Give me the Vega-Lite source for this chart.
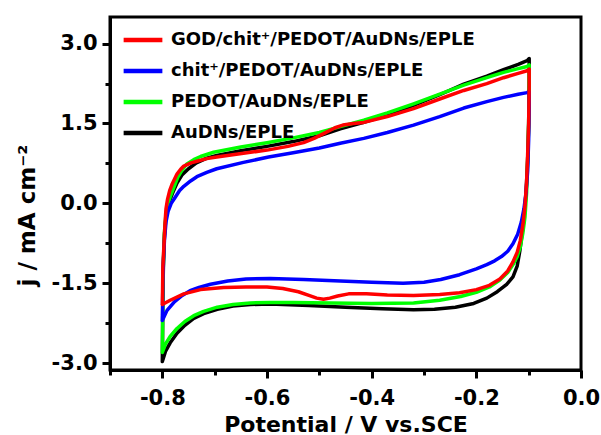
{
  "$schema": "https://vega.github.io/schema/vega-lite/v6.json",
  "width": 471,
  "height": 353,
  "autosize": {"type": "none"},
  "padding": {"left": 110, "top": 17, "right": 20, "bottom": 65},
  "background": "white",
  "config": {
    "view": {"stroke": "black", "strokeWidth": 3},
    "font": "DejaVu Sans"
  },
  "datasets": {
    "cv": [
      {"s":"AuDNs/EPLE","i":1,"x":-0.8,"y":-2.96},{"s":"AuDNs/EPLE","i":2,"x":-0.7995,"y":-2.4},{"s":"AuDNs/EPLE","i":3,"x":-0.799,"y":-1.8},{"s":"AuDNs/EPLE","i":4,"x":-0.798,"y":-1.2},{"s":"AuDNs/EPLE","i":5,"x":-0.796,"y":-0.6},{"s":"AuDNs/EPLE","i":6,"x":-0.793,"y":-0.25},{"s":"AuDNs/EPLE","i":7,"x":-0.788,"y":0.0},{"s":"AuDNs/EPLE","i":8,"x":-0.781,"y":0.18},{"s":"AuDNs/EPLE","i":9,"x":-0.772,"y":0.38},{"s":"AuDNs/EPLE","i":10,"x":-0.762,"y":0.54},{"s":"AuDNs/EPLE","i":11,"x":-0.75,"y":0.65},{"s":"AuDNs/EPLE","i":12,"x":-0.735,"y":0.76},{"s":"AuDNs/EPLE","i":13,"x":-0.715,"y":0.85},{"s":"AuDNs/EPLE","i":14,"x":-0.696,"y":0.9},{"s":"AuDNs/EPLE","i":15,"x":-0.65,"y":0.99},{"s":"AuDNs/EPLE","i":16,"x":-0.6,"y":1.07},{"s":"AuDNs/EPLE","i":17,"x":-0.55,"y":1.16},{"s":"AuDNs/EPLE","i":18,"x":-0.5,"y":1.27},{"s":"AuDNs/EPLE","i":19,"x":-0.46,"y":1.4},{"s":"AuDNs/EPLE","i":20,"x":-0.415,"y":1.52},{"s":"AuDNs/EPLE","i":21,"x":-0.37,"y":1.66},{"s":"AuDNs/EPLE","i":22,"x":-0.32,"y":1.84},{"s":"AuDNs/EPLE","i":23,"x":-0.27,"y":2.04},{"s":"AuDNs/EPLE","i":24,"x":-0.224,"y":2.24},{"s":"AuDNs/EPLE","i":25,"x":-0.18,"y":2.39},{"s":"AuDNs/EPLE","i":26,"x":-0.148,"y":2.51},{"s":"AuDNs/EPLE","i":27,"x":-0.12,"y":2.61},{"s":"AuDNs/EPLE","i":28,"x":-0.103,"y":2.68},{"s":"AuDNs/EPLE","i":29,"x":-0.099,"y":2.72},
      {"s":"AuDNs/EPLE","i":30,"x":-0.099,"y":2.3},{"s":"AuDNs/EPLE","i":31,"x":-0.1,"y":1.5},{"s":"AuDNs/EPLE","i":32,"x":-0.102,"y":0.8},{"s":"AuDNs/EPLE","i":33,"x":-0.105,"y":0.2},{"s":"AuDNs/EPLE","i":34,"x":-0.109,"y":-0.3},{"s":"AuDNs/EPLE","i":35,"x":-0.113,"y":-0.6},{"s":"AuDNs/EPLE","i":36,"x":-0.117,"y":-0.9},{"s":"AuDNs/EPLE","i":37,"x":-0.122,"y":-1.18},{"s":"AuDNs/EPLE","i":38,"x":-0.13,"y":-1.38},{"s":"AuDNs/EPLE","i":39,"x":-0.142,"y":-1.52},{"s":"AuDNs/EPLE","i":40,"x":-0.16,"y":-1.66},{"s":"AuDNs/EPLE","i":41,"x":-0.18,"y":-1.78},{"s":"AuDNs/EPLE","i":42,"x":-0.205,"y":-1.88},{"s":"AuDNs/EPLE","i":43,"x":-0.24,"y":-1.95},{"s":"AuDNs/EPLE","i":44,"x":-0.28,"y":-1.99},{"s":"AuDNs/EPLE","i":45,"x":-0.32,"y":-2.0},{"s":"AuDNs/EPLE","i":46,"x":-0.38,"y":-1.98},{"s":"AuDNs/EPLE","i":47,"x":-0.45,"y":-1.95},{"s":"AuDNs/EPLE","i":48,"x":-0.52,"y":-1.92},{"s":"AuDNs/EPLE","i":49,"x":-0.594,"y":-1.89},{"s":"AuDNs/EPLE","i":50,"x":-0.632,"y":-1.9},{"s":"AuDNs/EPLE","i":51,"x":-0.665,"y":-1.93},{"s":"AuDNs/EPLE","i":52,"x":-0.695,"y":-1.99},{"s":"AuDNs/EPLE","i":53,"x":-0.721,"y":-2.07},{"s":"AuDNs/EPLE","i":54,"x":-0.74,"y":-2.16},{"s":"AuDNs/EPLE","i":55,"x":-0.757,"y":-2.29},{"s":"AuDNs/EPLE","i":56,"x":-0.772,"y":-2.44},{"s":"AuDNs/EPLE","i":57,"x":-0.785,"y":-2.62},{"s":"AuDNs/EPLE","i":58,"x":-0.794,"y":-2.78},{"s":"AuDNs/EPLE","i":59,"x":-0.8,"y":-2.97},

      {"s":"PEDOT/AuDNs/EPLE","i":1,"x":-0.8,"y":-2.79},{"s":"PEDOT/AuDNs/EPLE","i":2,"x":-0.7995,"y":-2.3},{"s":"PEDOT/AuDNs/EPLE","i":3,"x":-0.799,"y":-1.7},{"s":"PEDOT/AuDNs/EPLE","i":4,"x":-0.798,"y":-1.1},{"s":"PEDOT/AuDNs/EPLE","i":5,"x":-0.796,"y":-0.55},{"s":"PEDOT/AuDNs/EPLE","i":6,"x":-0.793,"y":-0.2},{"s":"PEDOT/AuDNs/EPLE","i":7,"x":-0.789,"y":0.0},{"s":"PEDOT/AuDNs/EPLE","i":8,"x":-0.785,"y":0.12},{"s":"PEDOT/AuDNs/EPLE","i":9,"x":-0.778,"y":0.3},{"s":"PEDOT/AuDNs/EPLE","i":10,"x":-0.77,"y":0.5},{"s":"PEDOT/AuDNs/EPLE","i":11,"x":-0.762,"y":0.63},{"s":"PEDOT/AuDNs/EPLE","i":12,"x":-0.753,"y":0.74},{"s":"PEDOT/AuDNs/EPLE","i":13,"x":-0.74,"y":0.82},{"s":"PEDOT/AuDNs/EPLE","i":14,"x":-0.727,"y":0.88},{"s":"PEDOT/AuDNs/EPLE","i":15,"x":-0.702,"y":0.96},{"s":"PEDOT/AuDNs/EPLE","i":16,"x":-0.65,"y":1.06},{"s":"PEDOT/AuDNs/EPLE","i":17,"x":-0.6,"y":1.14},{"s":"PEDOT/AuDNs/EPLE","i":18,"x":-0.55,"y":1.23},{"s":"PEDOT/AuDNs/EPLE","i":19,"x":-0.5,"y":1.33},{"s":"PEDOT/AuDNs/EPLE","i":20,"x":-0.46,"y":1.44},{"s":"PEDOT/AuDNs/EPLE","i":21,"x":-0.415,"y":1.56},{"s":"PEDOT/AuDNs/EPLE","i":22,"x":-0.37,"y":1.7},{"s":"PEDOT/AuDNs/EPLE","i":23,"x":-0.32,"y":1.87},{"s":"PEDOT/AuDNs/EPLE","i":24,"x":-0.27,"y":2.05},{"s":"PEDOT/AuDNs/EPLE","i":25,"x":-0.224,"y":2.22},{"s":"PEDOT/AuDNs/EPLE","i":26,"x":-0.18,"y":2.36},{"s":"PEDOT/AuDNs/EPLE","i":27,"x":-0.148,"y":2.46},{"s":"PEDOT/AuDNs/EPLE","i":28,"x":-0.12,"y":2.53},{"s":"PEDOT/AuDNs/EPLE","i":29,"x":-0.103,"y":2.57},{"s":"PEDOT/AuDNs/EPLE","i":30,"x":-0.099,"y":2.6},
      {"s":"PEDOT/AuDNs/EPLE","i":31,"x":-0.099,"y":2.3},{"s":"PEDOT/AuDNs/EPLE","i":32,"x":-0.1,"y":1.5},{"s":"PEDOT/AuDNs/EPLE","i":33,"x":-0.102,"y":0.8},{"s":"PEDOT/AuDNs/EPLE","i":34,"x":-0.104,"y":0.2},{"s":"PEDOT/AuDNs/EPLE","i":35,"x":-0.107,"y":-0.25},{"s":"PEDOT/AuDNs/EPLE","i":36,"x":-0.111,"y":-0.55},{"s":"PEDOT/AuDNs/EPLE","i":37,"x":-0.116,"y":-0.82},{"s":"PEDOT/AuDNs/EPLE","i":38,"x":-0.122,"y":-1.0},{"s":"PEDOT/AuDNs/EPLE","i":39,"x":-0.13,"y":-1.15},{"s":"PEDOT/AuDNs/EPLE","i":40,"x":-0.14,"y":-1.3},{"s":"PEDOT/AuDNs/EPLE","i":41,"x":-0.155,"y":-1.44},{"s":"PEDOT/AuDNs/EPLE","i":42,"x":-0.175,"y":-1.57},{"s":"PEDOT/AuDNs/EPLE","i":43,"x":-0.2,"y":-1.67},{"s":"PEDOT/AuDNs/EPLE","i":44,"x":-0.23,"y":-1.75},{"s":"PEDOT/AuDNs/EPLE","i":45,"x":-0.27,"y":-1.82},{"s":"PEDOT/AuDNs/EPLE","i":46,"x":-0.32,"y":-1.87},{"s":"PEDOT/AuDNs/EPLE","i":47,"x":-0.4,"y":-1.88},{"s":"PEDOT/AuDNs/EPLE","i":48,"x":-0.479,"y":-1.87},{"s":"PEDOT/AuDNs/EPLE","i":49,"x":-0.55,"y":-1.86},{"s":"PEDOT/AuDNs/EPLE","i":50,"x":-0.594,"y":-1.86},{"s":"PEDOT/AuDNs/EPLE","i":51,"x":-0.632,"y":-1.87},{"s":"PEDOT/AuDNs/EPLE","i":52,"x":-0.665,"y":-1.9},{"s":"PEDOT/AuDNs/EPLE","i":53,"x":-0.695,"y":-1.95},{"s":"PEDOT/AuDNs/EPLE","i":54,"x":-0.721,"y":-2.03},{"s":"PEDOT/AuDNs/EPLE","i":55,"x":-0.74,"y":-2.11},{"s":"PEDOT/AuDNs/EPLE","i":56,"x":-0.757,"y":-2.22},{"s":"PEDOT/AuDNs/EPLE","i":57,"x":-0.772,"y":-2.35},{"s":"PEDOT/AuDNs/EPLE","i":58,"x":-0.785,"y":-2.5},{"s":"PEDOT/AuDNs/EPLE","i":59,"x":-0.794,"y":-2.64},{"s":"PEDOT/AuDNs/EPLE","i":60,"x":-0.8,"y":-2.8},

      {"s":"chit⁺/PEDOT/AuDNs/EPLE","i":1,"x":-0.8,"y":-2.2},{"s":"chit⁺/PEDOT/AuDNs/EPLE","i":2,"x":-0.7995,"y":-1.9},{"s":"chit⁺/PEDOT/AuDNs/EPLE","i":3,"x":-0.799,"y":-1.5},{"s":"chit⁺/PEDOT/AuDNs/EPLE","i":4,"x":-0.798,"y":-1.1},{"s":"chit⁺/PEDOT/AuDNs/EPLE","i":5,"x":-0.796,"y":-0.7},{"s":"chit⁺/PEDOT/AuDNs/EPLE","i":6,"x":-0.793,"y":-0.35},{"s":"chit⁺/PEDOT/AuDNs/EPLE","i":7,"x":-0.789,"y":-0.15},{"s":"chit⁺/PEDOT/AuDNs/EPLE","i":8,"x":-0.783,"y":0.0},{"s":"chit⁺/PEDOT/AuDNs/EPLE","i":9,"x":-0.775,"y":0.12},{"s":"chit⁺/PEDOT/AuDNs/EPLE","i":10,"x":-0.767,"y":0.24},{"s":"chit⁺/PEDOT/AuDNs/EPLE","i":11,"x":-0.759,"y":0.32},{"s":"chit⁺/PEDOT/AuDNs/EPLE","i":12,"x":-0.746,"y":0.42},{"s":"chit⁺/PEDOT/AuDNs/EPLE","i":13,"x":-0.734,"y":0.5},{"s":"chit⁺/PEDOT/AuDNs/EPLE","i":14,"x":-0.715,"y":0.58},{"s":"chit⁺/PEDOT/AuDNs/EPLE","i":15,"x":-0.696,"y":0.65},{"s":"chit⁺/PEDOT/AuDNs/EPLE","i":16,"x":-0.645,"y":0.77},{"s":"chit⁺/PEDOT/AuDNs/EPLE","i":17,"x":-0.597,"y":0.87},{"s":"chit⁺/PEDOT/AuDNs/EPLE","i":18,"x":-0.55,"y":0.95},{"s":"chit⁺/PEDOT/AuDNs/EPLE","i":19,"x":-0.5,"y":1.04},{"s":"chit⁺/PEDOT/AuDNs/EPLE","i":20,"x":-0.46,"y":1.13},{"s":"chit⁺/PEDOT/AuDNs/EPLE","i":21,"x":-0.415,"y":1.22},{"s":"chit⁺/PEDOT/AuDNs/EPLE","i":22,"x":-0.37,"y":1.33},{"s":"chit⁺/PEDOT/AuDNs/EPLE","i":23,"x":-0.32,"y":1.47},{"s":"chit⁺/PEDOT/AuDNs/EPLE","i":24,"x":-0.27,"y":1.63},{"s":"chit⁺/PEDOT/AuDNs/EPLE","i":25,"x":-0.224,"y":1.79},{"s":"chit⁺/PEDOT/AuDNs/EPLE","i":26,"x":-0.18,"y":1.91},{"s":"chit⁺/PEDOT/AuDNs/EPLE","i":27,"x":-0.148,"y":1.99},{"s":"chit⁺/PEDOT/AuDNs/EPLE","i":28,"x":-0.12,"y":2.05},{"s":"chit⁺/PEDOT/AuDNs/EPLE","i":29,"x":-0.103,"y":2.08},{"s":"chit⁺/PEDOT/AuDNs/EPLE","i":30,"x":-0.099,"y":2.1},
      {"s":"chit⁺/PEDOT/AuDNs/EPLE","i":31,"x":-0.099,"y":1.8},{"s":"chit⁺/PEDOT/AuDNs/EPLE","i":32,"x":-0.1,"y":1.2},{"s":"chit⁺/PEDOT/AuDNs/EPLE","i":33,"x":-0.102,"y":0.6},{"s":"chit⁺/PEDOT/AuDNs/EPLE","i":34,"x":-0.105,"y":0.2},{"s":"chit⁺/PEDOT/AuDNs/EPLE","i":35,"x":-0.109,"y":-0.1},{"s":"chit⁺/PEDOT/AuDNs/EPLE","i":36,"x":-0.114,"y":-0.35},{"s":"chit⁺/PEDOT/AuDNs/EPLE","i":37,"x":-0.121,"y":-0.58},{"s":"chit⁺/PEDOT/AuDNs/EPLE","i":38,"x":-0.13,"y":-0.76},{"s":"chit⁺/PEDOT/AuDNs/EPLE","i":39,"x":-0.14,"y":-0.9},{"s":"chit⁺/PEDOT/AuDNs/EPLE","i":40,"x":-0.152,"y":-1.0},{"s":"chit⁺/PEDOT/AuDNs/EPLE","i":41,"x":-0.165,"y":-1.08},{"s":"chit⁺/PEDOT/AuDNs/EPLE","i":42,"x":-0.18,"y":-1.15},{"s":"chit⁺/PEDOT/AuDNs/EPLE","i":43,"x":-0.2,"y":-1.23},{"s":"chit⁺/PEDOT/AuDNs/EPLE","i":44,"x":-0.232,"y":-1.34},{"s":"chit⁺/PEDOT/AuDNs/EPLE","i":45,"x":-0.268,"y":-1.43},{"s":"chit⁺/PEDOT/AuDNs/EPLE","i":46,"x":-0.3,"y":-1.48},{"s":"chit⁺/PEDOT/AuDNs/EPLE","i":47,"x":-0.34,"y":-1.5},{"s":"chit⁺/PEDOT/AuDNs/EPLE","i":48,"x":-0.4,"y":-1.48},{"s":"chit⁺/PEDOT/AuDNs/EPLE","i":49,"x":-0.46,"y":-1.46},{"s":"chit⁺/PEDOT/AuDNs/EPLE","i":50,"x":-0.53,"y":-1.43},{"s":"chit⁺/PEDOT/AuDNs/EPLE","i":51,"x":-0.594,"y":-1.41},{"s":"chit⁺/PEDOT/AuDNs/EPLE","i":52,"x":-0.64,"y":-1.42},{"s":"chit⁺/PEDOT/AuDNs/EPLE","i":53,"x":-0.675,"y":-1.46},{"s":"chit⁺/PEDOT/AuDNs/EPLE","i":54,"x":-0.708,"y":-1.52},{"s":"chit⁺/PEDOT/AuDNs/EPLE","i":55,"x":-0.73,"y":-1.58},{"s":"chit⁺/PEDOT/AuDNs/EPLE","i":56,"x":-0.747,"y":-1.64},{"s":"chit⁺/PEDOT/AuDNs/EPLE","i":57,"x":-0.762,"y":-1.73},{"s":"chit⁺/PEDOT/AuDNs/EPLE","i":58,"x":-0.777,"y":-1.85},{"s":"chit⁺/PEDOT/AuDNs/EPLE","i":59,"x":-0.791,"y":-2.01},{"s":"chit⁺/PEDOT/AuDNs/EPLE","i":60,"x":-0.8,"y":-2.2},

      {"s":"GOD/chit⁺/PEDOT/AuDNs/EPLE","i":1,"x":-0.8,"y":-1.9},{"s":"GOD/chit⁺/PEDOT/AuDNs/EPLE","i":2,"x":-0.7995,"y":-1.6},{"s":"GOD/chit⁺/PEDOT/AuDNs/EPLE","i":3,"x":-0.799,"y":-1.2},{"s":"GOD/chit⁺/PEDOT/AuDNs/EPLE","i":4,"x":-0.797,"y":-0.8},{"s":"GOD/chit⁺/PEDOT/AuDNs/EPLE","i":5,"x":-0.795,"y":-0.4},{"s":"GOD/chit⁺/PEDOT/AuDNs/EPLE","i":6,"x":-0.793,"y":-0.1},{"s":"GOD/chit⁺/PEDOT/AuDNs/EPLE","i":7,"x":-0.79,"y":0.08},{"s":"GOD/chit⁺/PEDOT/AuDNs/EPLE","i":8,"x":-0.786,"y":0.24},{"s":"GOD/chit⁺/PEDOT/AuDNs/EPLE","i":9,"x":-0.781,"y":0.37},{"s":"GOD/chit⁺/PEDOT/AuDNs/EPLE","i":10,"x":-0.772,"y":0.55},{"s":"GOD/chit⁺/PEDOT/AuDNs/EPLE","i":11,"x":-0.765,"y":0.64},{"s":"GOD/chit⁺/PEDOT/AuDNs/EPLE","i":12,"x":-0.759,"y":0.7},{"s":"GOD/chit⁺/PEDOT/AuDNs/EPLE","i":13,"x":-0.745,"y":0.76},{"s":"GOD/chit⁺/PEDOT/AuDNs/EPLE","i":14,"x":-0.734,"y":0.79},{"s":"GOD/chit⁺/PEDOT/AuDNs/EPLE","i":15,"x":-0.715,"y":0.84},{"s":"GOD/chit⁺/PEDOT/AuDNs/EPLE","i":16,"x":-0.696,"y":0.87},{"s":"GOD/chit⁺/PEDOT/AuDNs/EPLE","i":17,"x":-0.645,"y":0.94},{"s":"GOD/chit⁺/PEDOT/AuDNs/EPLE","i":18,"x":-0.6,"y":1.0},{"s":"GOD/chit⁺/PEDOT/AuDNs/EPLE","i":19,"x":-0.56,"y":1.07},{"s":"GOD/chit⁺/PEDOT/AuDNs/EPLE","i":20,"x":-0.53,"y":1.14},{"s":"GOD/chit⁺/PEDOT/AuDNs/EPLE","i":21,"x":-0.51,"y":1.22},{"s":"GOD/chit⁺/PEDOT/AuDNs/EPLE","i":22,"x":-0.49,"y":1.32},{"s":"GOD/chit⁺/PEDOT/AuDNs/EPLE","i":23,"x":-0.47,"y":1.42},{"s":"GOD/chit⁺/PEDOT/AuDNs/EPLE","i":24,"x":-0.455,"y":1.47},{"s":"GOD/chit⁺/PEDOT/AuDNs/EPLE","i":25,"x":-0.435,"y":1.5},{"s":"GOD/chit⁺/PEDOT/AuDNs/EPLE","i":26,"x":-0.415,"y":1.52},{"s":"GOD/chit⁺/PEDOT/AuDNs/EPLE","i":27,"x":-0.37,"y":1.63},{"s":"GOD/chit⁺/PEDOT/AuDNs/EPLE","i":28,"x":-0.32,"y":1.78},{"s":"GOD/chit⁺/PEDOT/AuDNs/EPLE","i":29,"x":-0.27,"y":1.96},{"s":"GOD/chit⁺/PEDOT/AuDNs/EPLE","i":30,"x":-0.224,"y":2.12},{"s":"GOD/chit⁺/PEDOT/AuDNs/EPLE","i":31,"x":-0.18,"y":2.25},{"s":"GOD/chit⁺/PEDOT/AuDNs/EPLE","i":32,"x":-0.148,"y":2.36},{"s":"GOD/chit⁺/PEDOT/AuDNs/EPLE","i":33,"x":-0.12,"y":2.44},{"s":"GOD/chit⁺/PEDOT/AuDNs/EPLE","i":34,"x":-0.103,"y":2.49},{"s":"GOD/chit⁺/PEDOT/AuDNs/EPLE","i":35,"x":-0.099,"y":2.52},
      {"s":"GOD/chit⁺/PEDOT/AuDNs/EPLE","i":36,"x":-0.099,"y":2.2},{"s":"GOD/chit⁺/PEDOT/AuDNs/EPLE","i":37,"x":-0.1,"y":1.5},{"s":"GOD/chit⁺/PEDOT/AuDNs/EPLE","i":38,"x":-0.102,"y":0.9},{"s":"GOD/chit⁺/PEDOT/AuDNs/EPLE","i":39,"x":-0.104,"y":0.4},{"s":"GOD/chit⁺/PEDOT/AuDNs/EPLE","i":40,"x":-0.107,"y":-0.05},{"s":"GOD/chit⁺/PEDOT/AuDNs/EPLE","i":41,"x":-0.111,"y":-0.4},{"s":"GOD/chit⁺/PEDOT/AuDNs/EPLE","i":42,"x":-0.116,"y":-0.7},{"s":"GOD/chit⁺/PEDOT/AuDNs/EPLE","i":43,"x":-0.122,"y":-0.92},{"s":"GOD/chit⁺/PEDOT/AuDNs/EPLE","i":44,"x":-0.13,"y":-1.1},{"s":"GOD/chit⁺/PEDOT/AuDNs/EPLE","i":45,"x":-0.14,"y":-1.27},{"s":"GOD/chit⁺/PEDOT/AuDNs/EPLE","i":46,"x":-0.155,"y":-1.42},{"s":"GOD/chit⁺/PEDOT/AuDNs/EPLE","i":47,"x":-0.175,"y":-1.54},{"s":"GOD/chit⁺/PEDOT/AuDNs/EPLE","i":48,"x":-0.2,"y":-1.62},{"s":"GOD/chit⁺/PEDOT/AuDNs/EPLE","i":49,"x":-0.232,"y":-1.68},{"s":"GOD/chit⁺/PEDOT/AuDNs/EPLE","i":50,"x":-0.27,"y":-1.71},{"s":"GOD/chit⁺/PEDOT/AuDNs/EPLE","i":51,"x":-0.32,"y":-1.73},{"s":"GOD/chit⁺/PEDOT/AuDNs/EPLE","i":52,"x":-0.37,"y":-1.72},{"s":"GOD/chit⁺/PEDOT/AuDNs/EPLE","i":53,"x":-0.41,"y":-1.7},{"s":"GOD/chit⁺/PEDOT/AuDNs/EPLE","i":54,"x":-0.444,"y":-1.7},{"s":"GOD/chit⁺/PEDOT/AuDNs/EPLE","i":55,"x":-0.465,"y":-1.74},{"s":"GOD/chit⁺/PEDOT/AuDNs/EPLE","i":56,"x":-0.48,"y":-1.78},{"s":"GOD/chit⁺/PEDOT/AuDNs/EPLE","i":57,"x":-0.492,"y":-1.8},{"s":"GOD/chit⁺/PEDOT/AuDNs/EPLE","i":58,"x":-0.505,"y":-1.78},{"s":"GOD/chit⁺/PEDOT/AuDNs/EPLE","i":59,"x":-0.52,"y":-1.73},{"s":"GOD/chit⁺/PEDOT/AuDNs/EPLE","i":60,"x":-0.54,"y":-1.66},{"s":"GOD/chit⁺/PEDOT/AuDNs/EPLE","i":61,"x":-0.57,"y":-1.6},{"s":"GOD/chit⁺/PEDOT/AuDNs/EPLE","i":62,"x":-0.6,"y":-1.57},{"s":"GOD/chit⁺/PEDOT/AuDNs/EPLE","i":63,"x":-0.64,"y":-1.57},{"s":"GOD/chit⁺/PEDOT/AuDNs/EPLE","i":64,"x":-0.683,"y":-1.58},{"s":"GOD/chit⁺/PEDOT/AuDNs/EPLE","i":65,"x":-0.727,"y":-1.62},{"s":"GOD/chit⁺/PEDOT/AuDNs/EPLE","i":66,"x":-0.759,"y":-1.7},{"s":"GOD/chit⁺/PEDOT/AuDNs/EPLE","i":67,"x":-0.785,"y":-1.82},{"s":"GOD/chit⁺/PEDOT/AuDNs/EPLE","i":68,"x":-0.8,"y":-1.9}
    ]
  },
  "data": {"name": "cv"},
  "mark": {"type": "line", "strokeWidth": 3.5, "strokeJoin": "round", "strokeCap": "round"},
  "encoding": {
    "x": {
      "field": "x", "type": "quantitative",
      "scale": {"domain": [-0.9, 0], "nice": false, "zero": false},
      "axis": {
        "values": [-0.9, -0.8, -0.7, -0.6, -0.5, -0.4, -0.3, -0.2, -0.1, 0],
        "labelExpr": "abs(round(datum.value*10))%2==0 ? (datum.value < -0.001 ? '-' : '') + format(abs(datum.value), '.1f') : ''",
        "tickSize": {"condition": {"test": "abs(round(datum.value*10))%2==0", "value": 8}, "value": 5},
        "tickWidth": 3, "tickColor": "black",
        "domainWidth": 3, "domainColor": "black",
        "grid": false,
        "labelFont": "DejaVu Sans", "labelFontWeight": "bold", "labelFontSize": 21, "labelColor": "black",
        "labelPadding": 9, "labelFlush": false, "labelOverlap": false,
        "title": "Potential / V vs.SCE",
        "titleFont": "DejaVu Sans", "titleFontWeight": "bold", "titleFontSize": 22, "titleColor": "black",
        "titleBaseline": "alphabetic", "titleY": 61
      }
    },
    "y": {
      "field": "y", "type": "quantitative",
      "scale": {"domain": [-3.13, 3.5], "nice": false, "zero": false},
      "axis": {
        "values": [-3, -2.25, -1.5, -0.75, 0, 0.75, 1.5, 2.25, 3],
        "labelExpr": "abs(round(datum.value*4))%6==0 ? (datum.value < -0.001 ? '-' : '') + format(abs(datum.value), '.1f') : ''",
        "tickSize": {"condition": {"test": "abs(round(datum.value*4))%6==0", "value": 8}, "value": 5},
        "tickWidth": 3, "tickColor": "black",
        "domainWidth": 3, "domainColor": "black",
        "grid": false,
        "labelFont": "DejaVu Sans", "labelFontWeight": "bold", "labelFontSize": 21, "labelColor": "black",
        "labelPadding": 5, "labelOverlap": false, "labelFlush": false,
        "title": "j / mA cm⁻²",
        "titleFont": "DejaVu Sans", "titleFontWeight": "bold", "titleFontSize": 23, "titleColor": "black",
        "titleAngle": 270, "titleAlign": "center", "titleBaseline": "middle",
        "titleX": -83, "titleY": 198
      }
    },
    "color": {
      "field": "s", "type": "nominal",
      "scale": {
        "domain": ["GOD/chit⁺/PEDOT/AuDNs/EPLE", "chit⁺/PEDOT/AuDNs/EPLE", "PEDOT/AuDNs/EPLE", "AuDNs/EPLE"],
        "range": ["#ff0000", "#0000ff", "#00ff00", "#000000"]
      },
      "legend": {
        "orient": "none", "legendX": 11, "legendY": 1,
        "title": null, "padding": 0,
        "symbolType": "stroke", "symbolStrokeWidth": 4.5, "symbolSize": 1500,
        "labelFont": "DejaVu Sans", "labelFontSize": 18, "labelFontWeight": "bold", "labelColor": "black",
        "labelOffset": 6, "rowPadding": -16, "labelLimit": 0
      }
    },
    "order": {"field": "i", "type": "quantitative"}
  }
}
